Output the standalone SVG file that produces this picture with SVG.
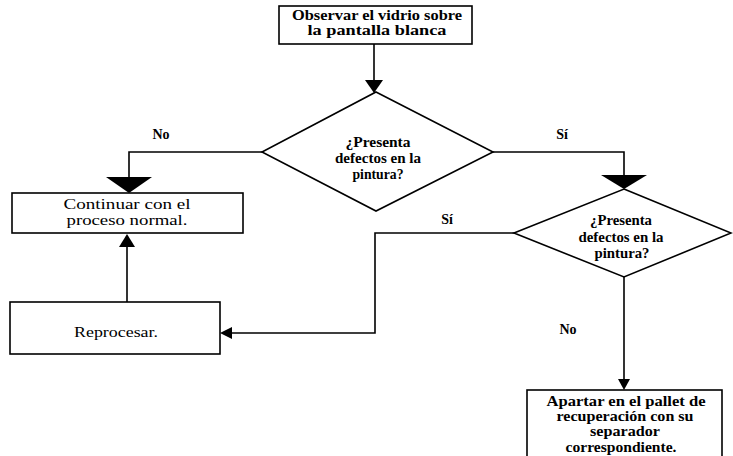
<svg xmlns="http://www.w3.org/2000/svg" width="733" height="456" viewBox="0 0 733 456">
<style>
.box{fill:#fff;stroke:#000;stroke-width:1.6}
.ln{fill:none;stroke:#000;stroke-width:1.6}
.ah{fill:#000;stroke:none}
text{font-family:"Liberation Serif","DejaVu Serif","Times New Roman",serif;font-size:14px;fill:#000;text-anchor:middle}
.b{font-weight:bold}
.lbl{font-weight:bold;font-size:14px}
</style>
<rect width="733" height="456" fill="#fff"/>
<g id="connectors">
<line class="ln" x1="374" y1="44" x2="374" y2="82"/>
<polygon class="ah" points="365,80 383,80 374,93"/>
<polyline class="ln" points="262,152 129,152 129,178"/>
<polygon class="ah" points="106,177 152,177 129,193"/>
<text class="lbl" x="161" y="139">No</text>
<polyline class="ln" points="493,152 624,152 624,176"/>
<polygon class="ah" points="601,175 647,175 624,189"/>
<text class="lbl" x="562" y="139">Sí</text>
<polyline class="ln" points="514,233 375,233 375,333 229,333"/>
<polygon class="ah" points="232,327 232,339 220,333"/>
<text class="lbl" x="447" y="224">Sí</text>
<line class="ln" x1="127" y1="302" x2="127" y2="245"/>
<polygon class="ah" points="119,247 135,247 127,234"/>
<line class="ln" x1="624" y1="277" x2="624" y2="380"/>
<polygon class="ah" points="618,379 630,379 624,390"/>
<text class="lbl" x="568" y="334">No</text>
</g>
<g id="n-observar">
<rect class="box" x="279" y="6" width="193" height="38"/>
<text class="b" x="377" y="20" textLength="170" lengthAdjust="spacingAndGlyphs">Observar el vidrio sobre</text>
<text class="b" x="377" y="35" textLength="139" lengthAdjust="spacingAndGlyphs">la pantalla blanca</text>
</g>
<g id="n-decision1">
<polygon class="box" points="376,92 493,152 376,211 262,152"/>
<text class="b" x="378" y="147" textLength="65" lengthAdjust="spacingAndGlyphs">¿Presenta</text>
<text class="b" x="378" y="163" textLength="86" lengthAdjust="spacingAndGlyphs">defectos en la</text>
<text class="b" x="378" y="179" textLength="51" lengthAdjust="spacingAndGlyphs">pintura?</text>
</g>
<g id="n-continuar">
<rect class="box" x="12" y="193" width="231" height="40"/>
<text x="127" y="209" textLength="127" lengthAdjust="spacingAndGlyphs">Continuar con el</text>
<text x="127" y="225" textLength="121" lengthAdjust="spacingAndGlyphs">proceso normal.</text>
</g>
<g id="n-decision2">
<polygon class="box" points="624,189 731,233 624,277 514,233"/>
<text class="b" x="621" y="225" textLength="62" lengthAdjust="spacingAndGlyphs">¿Presenta</text>
<text class="b" x="621" y="242" textLength="85" lengthAdjust="spacingAndGlyphs">defectos en la</text>
<text class="b" x="622" y="258" textLength="55" lengthAdjust="spacingAndGlyphs">pintura?</text>
</g>
<g id="n-reprocesar">
<rect class="box" x="10" y="302" width="210" height="52"/>
<text x="116" y="337" textLength="84" lengthAdjust="spacingAndGlyphs">Reprocesar.</text>
</g>
<g id="n-apartar">
<rect class="box" x="527" y="390" width="195" height="80"/>
<text class="b" x="626" y="406" textLength="159" lengthAdjust="spacingAndGlyphs">Apartar en el pallet de</text>
<text class="b" x="625" y="421" textLength="137" lengthAdjust="spacingAndGlyphs">recuperación con su</text>
<text class="b" x="625" y="436" textLength="70" lengthAdjust="spacingAndGlyphs">separador</text>
<text class="b" x="621" y="452" textLength="111" lengthAdjust="spacingAndGlyphs">correspondiente.</text>
</g>
</svg>
